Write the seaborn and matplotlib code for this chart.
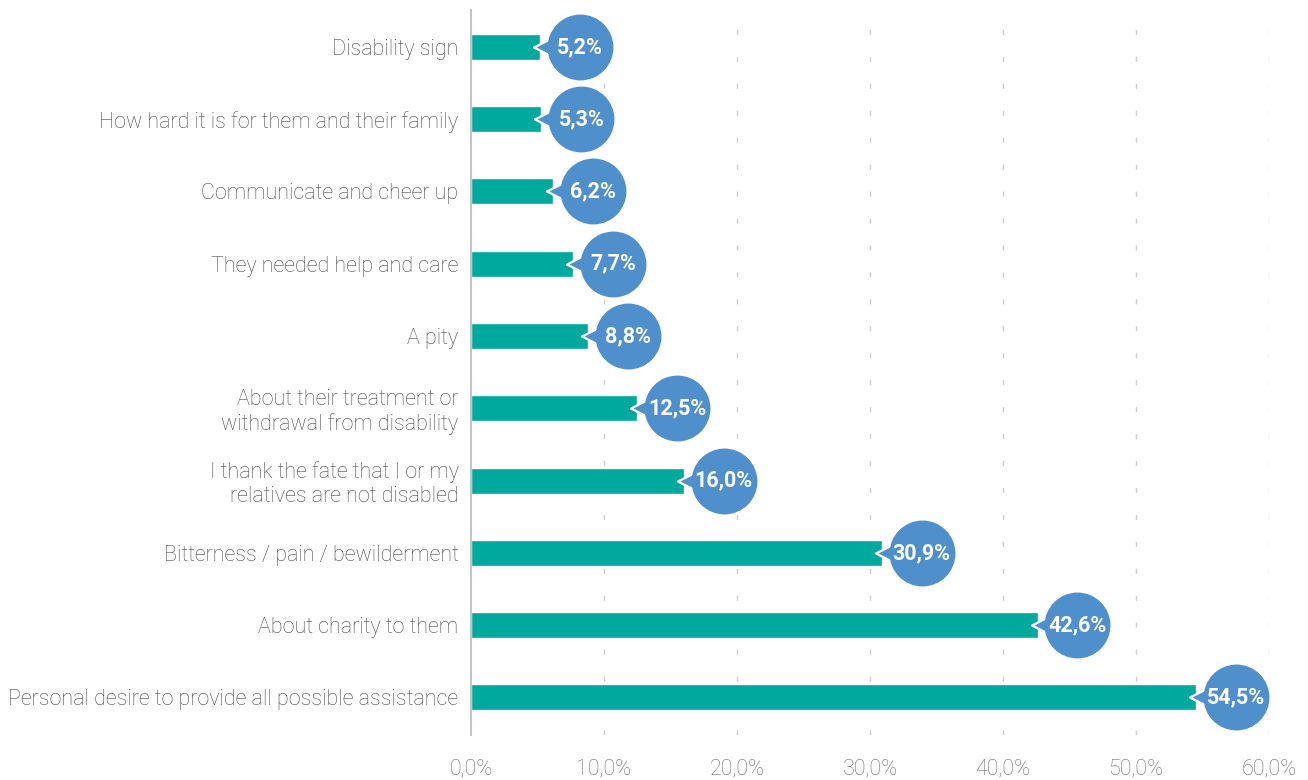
import numpy as np
import pandas as pd
import matplotlib
matplotlib.use("Agg")
import matplotlib.pyplot as plt
import seaborn as sns

# data
categories = ["Disability sign",
              "How hard it is for them and their family",
              "Communicate and cheer up",
              "They needed help and care",
              "A pity",
              "About their treatment or\nwithdrawal from disability",
              "I thank the fate that I or my\nrelatives are not disabled",
              "Bitterness / pain / bewilderment",
              "About charity to them",
              "Personal desire to provide all possible assistance"]
values = [5.2, 5.3, 6.2, 7.7, 8.8, 12.5, 16.0, 30.9, 42.6, 54.5]
ticks = [0, 10, 20, 30, 40, 50, 60]

bar_col = "#00A99D"
bubble_col = "#4F8FCC"

df = pd.DataFrame({"cat": categories, "val": values})

sns.set_style("white")
plt.rcParams['font.family'] = ['Roboto', 'DejaVu Sans']

fig = plt.figure(figsize=(13.08, 7.8), dpi=100)
ax = fig.add_axes([471/1308, 45/780, (1269-471)/1308, (735-10)/780])

sns.barplot(data=df, x="val", y="cat", orient="h", color=bar_col,
            width=0.36, saturation=1, ax=ax)

ypos = np.arange(len(values))
vals = np.array(values)
# pointer triangles then circles
ax.scatter(vals + 0.3, ypos, marker="<", s=230, color=bubble_col,
           edgecolor="white", linewidth=1.6, zorder=3)
ax.scatter(vals + 3.0, ypos, s=2250, color=bubble_col, linewidth=0, zorder=4)
for y, v in zip(ypos, values):
    ax.text(v + 3.0, y, f"{v:.1f}%".replace(".", ","), color="white",
            fontsize=15.5, fontweight="bold", ha="center", va="center", zorder=5)

ax.set_xlim(0, 60)
ax.set_ylim(9.52, -0.51)
ax.set_xticks(ticks)
ax.set_xticklabels([f"{t:.1f}%".replace(".", ",") for t in ticks])
ax.set_xlabel("")
ax.set_ylabel("")
for t in ticks[1:]:
    ax.axvline(t, color="#cfcfcf", linestyle=(0, (3.6, 15.8)), linewidth=1, zorder=0)
for s in ["top", "right", "bottom"]:
    ax.spines[s].set_visible(False)
ax.spines["left"].set_color("#c4c4c4")
ax.spines["left"].set_linewidth(1.5)
ax.tick_params(axis="x", length=0, labelsize=15.5, labelcolor="#707070", pad=17)
ax.tick_params(axis="y", length=0, labelsize=15.5, labelcolor="#4a4a4a", pad=9)
for lab in ax.get_xticklabels() + ax.get_yticklabels():
    lab.set_fontweight("light")
for lab in ax.get_yticklabels():
    lab.set_linespacing(1.15)
for c in ax.collections:
    c.set_clip_on(False)

fig.savefig("out.png", dpi=100)
